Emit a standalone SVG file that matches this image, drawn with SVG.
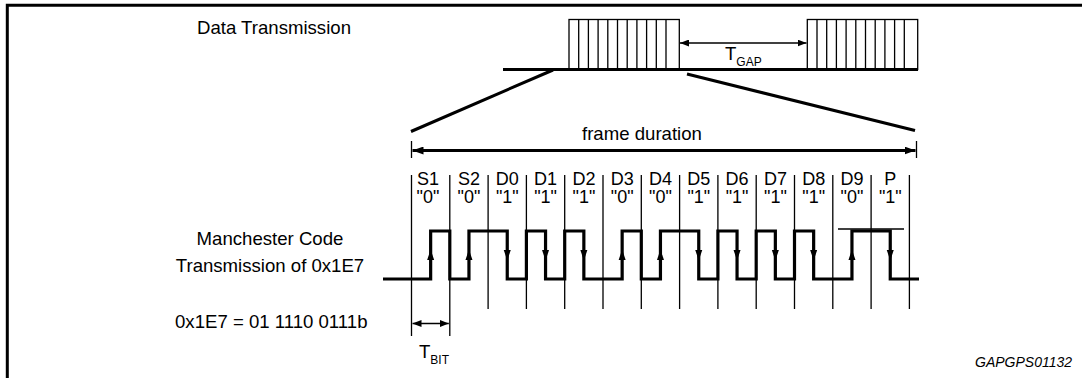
<svg xmlns="http://www.w3.org/2000/svg" width="1082" height="378" viewBox="0 0 1082 378">
<style>
text{font-family:"Liberation Sans",Arial,Helvetica,sans-serif;fill:#000}
.lbl{font-size:18.6px}
.bit{font-size:18px;text-anchor:middle}
.sub{font-size:12px}
.thick{stroke:#000;stroke-width:3;fill:none}
.thin{stroke:#000;stroke-width:1.3;fill:none}
.wave{stroke:#000;stroke-width:3.2;fill:none;stroke-linejoin:miter}
</style>
<defs>
<marker id="arrL" viewBox="0 0 11 8" refX="11" refY="4" markerWidth="11" markerHeight="8" markerUnits="userSpaceOnUse" orient="auto-start-reverse"><path d="M0,0 L11,4 L0,8 z" fill="#000"/></marker>
<marker id="arrS" viewBox="0 0 9 7" refX="9" refY="3.5" markerWidth="9" markerHeight="7" markerUnits="userSpaceOnUse" orient="auto-start-reverse"><path d="M0,0 L9,3.5 L0,7 z" fill="#000"/></marker>
<path id="up" d="M-3.5,5 L0,-5.5 L3.5,5 z"/>
<path id="dn" d="M-3.5,-5 L0,5.5 L3.5,-5 z"/>
</defs>

<g id="frame-border">
<path d="M7.3,378 V5.3 H1082" class="thick" stroke-width="2.6"/>
</g>

<g id="data-transmission">
<text class="lbl" x="197" y="33.5">Data Transmission</text>
<line x1="503" y1="69.5" x2="918" y2="69.5" class="thick"/>
</g>

<g id="frame1">
<rect x="569" y="19.5" width="110.3" height="50" class="thin" fill="#fff"/>
<path class="thin" d="M578.7,19.5V69 M588.4,19.5V69 M598.1,19.5V69 M607.8,19.5V69 M617.5,19.5V69 M627.2,19.5V69 M636.9,19.5V69 M646.6,19.5V69 M656.3,19.5V69 M666,19.5V69"/>
</g>

<g id="frame2">
<rect x="807.3" y="19.5" width="110.4" height="50" class="thin" fill="#fff"/>
<path class="thin" d="M817,19.5V69 M826.7,19.5V69 M836.4,19.5V69 M846.1,19.5V69 M855.8,19.5V69 M865.5,19.5V69 M875.2,19.5V69 M884.9,19.5V69 M894.6,19.5V69 M904.3,19.5V69"/>
<line x1="503" y1="69.5" x2="918" y2="69.5" class="thick"/>
</g>

<g id="t-gap">
<text class="lbl" x="725" y="60">T<tspan class="sub" dy="6">GAP</tspan></text>
</g>

<g id="frame-duration">
<text class="lbl" x="582" y="140">frame duration</text>
</g>

<g id="bit-labels">
<text class="bit" x="428" y="185">S1</text>
<text class="bit" x="428" y="203">"0"</text>
<text class="bit" x="469" y="185">S2</text>
<text class="bit" x="469" y="203">"0"</text>
<text class="bit" x="507.3" y="185">D0</text>
<text class="bit" x="507.3" y="203">"1"</text>
<text class="bit" x="545.6" y="185">D1</text>
<text class="bit" x="545.6" y="203">"1"</text>
<text class="bit" x="583.9" y="185">D2</text>
<text class="bit" x="583.9" y="203">"1"</text>
<text class="bit" x="622.2" y="185">D3</text>
<text class="bit" x="622.2" y="203">"0"</text>
<text class="bit" x="660.5" y="185">D4</text>
<text class="bit" x="660.5" y="203">"0"</text>
<text class="bit" x="698.8" y="185">D5</text>
<text class="bit" x="698.8" y="203">"1"</text>
<text class="bit" x="737.1" y="185">D6</text>
<text class="bit" x="737.1" y="203">"1"</text>
<text class="bit" x="775.4" y="185">D7</text>
<text class="bit" x="775.4" y="203">"1"</text>
<text class="bit" x="813.7" y="185">D8</text>
<text class="bit" x="813.7" y="203">"1"</text>
<text class="bit" x="852" y="185">D9</text>
<text class="bit" x="852" y="203">"0"</text>
<text class="bit" x="890.3" y="185">P</text>
<text class="bit" x="890.3" y="203">"1"</text>
</g>

<g id="manchester-label">
<text class="lbl" x="270" y="245" text-anchor="middle">Manchester Code</text>
<text class="lbl" x="270" y="272" text-anchor="middle">Transmission of 0x1E7</text>
</g>

<g id="value-label">
<text class="lbl" x="175" y="328">0x1E7 = 01 1110 0111b</text>
</g>

<g id="t-bit">
<text class="lbl" x="419" y="358">T<tspan class="sub" dy="6">BIT</tspan></text>
</g>

<g id="figure-id">
<text x="975" y="367" font-size="14" font-style="italic">GAPGPS01132</text>
</g>

<g id="connectors">
<line x1="553" y1="70" x2="411" y2="131.5" class="thick"/>
<line x1="687" y1="74" x2="915" y2="130.5" class="thick"/>
<line x1="680" y1="43" x2="806.5" y2="43" class="thin" stroke-width="1.6" marker-start="url(#arrS)" marker-end="url(#arrS)"/>
<line x1="411.5" y1="141" x2="411.5" y2="158" class="thin" stroke-width="1.6"/>
<line x1="916.5" y1="141" x2="916.5" y2="158" class="thin" stroke-width="1.6"/>
<line x1="412.5" y1="150.5" x2="915.5" y2="150.5" class="thick" stroke-width="2.8" marker-start="url(#arrL)" marker-end="url(#arrL)"/>
<path class="thin" d="M411.5,175V336 M449.8,175V336 M488.1,175V309 M526.4,175V309 M564.7,175V309 M603,175V309 M641.3,175V309 M679.6,175V309 M717.9,175V309 M756.2,175V309 M794.5,175V309 M832.8,175V309 M871.1,175V309 M909.4,175V309"/>
<line x1="838" y1="229" x2="904" y2="229" class="thin"/>
<path class="wave" d="M383,279 H430.65 V231 H449.8 V279 H468.95 V231 H507.25 V279 H526.4 V231 H545.55 V279 H564.7 V231 H583.85 V279 H622.15 V231 H641.3 V279 H660.45 V231 H698.75 V279 H717.9 V231 H737.05 V279 H756.2 V231 H775.35 V279 H794.5 V231 H813.65 V279 H851.95 V231 H890.25 V279 H919"/>
<use href="#up" x="430.65" y="255"/>
<use href="#up" x="468.95" y="255"/>
<use href="#dn" x="507.25" y="255"/>
<use href="#dn" x="545.55" y="255"/>
<use href="#dn" x="583.85" y="255"/>
<use href="#up" x="622.15" y="255"/>
<use href="#up" x="660.45" y="255"/>
<use href="#dn" x="698.75" y="255"/>
<use href="#dn" x="737.05" y="255"/>
<use href="#dn" x="775.35" y="255"/>
<use href="#dn" x="813.65" y="255"/>
<use href="#up" x="851.95" y="255"/>
<use href="#dn" x="890.25" y="255"/>
<line x1="412.5" y1="323.5" x2="448.8" y2="323.5" class="thin" stroke-width="1.6" marker-start="url(#arrS)" marker-end="url(#arrS)"/>
</g>
</svg>
